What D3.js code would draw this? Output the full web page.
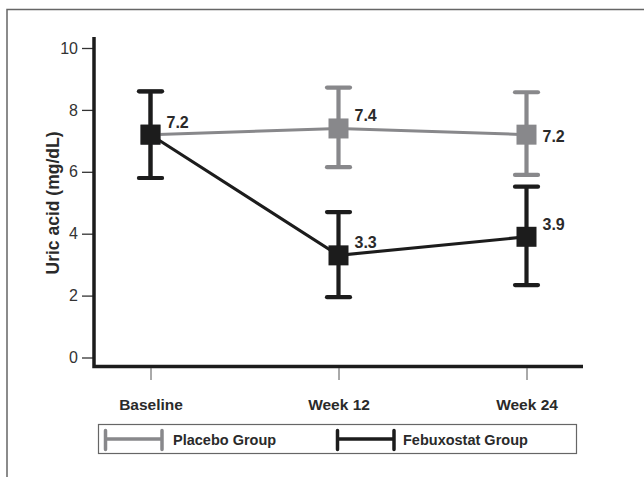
<!DOCTYPE html>
<html>
<head>
<script src="https://d3js.org/d3.v7.min.js"></script>
<style>
body { margin: 0; background: white; font-family: "Liberation Sans", Arial, Helvetica, sans-serif; }
</style>
</head>
<body>
<div id="chart"></div>
<script>
// data
const timepoints = ["Baseline", "Week 12", "Week 24"];
const yTicks = [0, 2, 4, 6, 8, 10];
const placeboMean = [7.2, 7.4, 7.2];
const placeboLow = [5.8, 6.15, 5.9];
const placeboHigh = [8.6, 8.72, 8.57];
const febuxMean = [7.2, 3.3, 3.9];
const febuxLow = [5.8, 1.95, 2.34];
const febuxHigh = [8.6, 4.7, 5.52];
const seriesNames = ["Placebo Group", "Febuxostat Group"];

const width = 644, height = 477;
const grey = "#88888b", black = "#1c1c1c";

const svg = d3.select("#chart").append("svg")
    .attr("width", width)
    .attr("height", height);

// outer frame (open at right and bottom)
svg.append("path")
    .attr("d", `M7,${height} V9.5 H${width}`)
    .attr("fill", "none")
    .attr("stroke", "#666")
    .attr("stroke-width", 1.5);

const x = d3.scalePoint()
    .domain(timepoints)
    .range([150.5, 526.5]);

const y = d3.scaleLinear()
    .domain([0, 10])
    .range([357.5, 48]);

// y axis
const yAxis = svg.append("g")
    .attr("transform", "translate(94,0)")
    .call(d3.axisLeft(y).tickValues(yTicks).tickSize(12).tickPadding(4))
    .call(g => g.select(".domain").remove());
yAxis.selectAll(".tick line").attr("stroke", "#333").attr("stroke-width", 1.3);
yAxis.selectAll(".tick text")
    .attr("font-size", 16)
    .attr("fill", "#333")
    .attr("font-family", "Liberation Sans, Arial, sans-serif");

svg.append("path")
    .attr("d", `M94,37 V366.5 H583`)
    .attr("fill", "none")
    .attr("stroke", "#1c1c1c")
    .attr("stroke-width", 3.5);

// x axis ticks and labels
const xAxis = svg.append("g")
    .attr("transform", "translate(0,368)")
    .call(d3.axisBottom(x).tickSize(12).tickPadding(19))
    .call(g => g.select(".domain").remove());
xAxis.selectAll(".tick line").attr("stroke", "#555").attr("stroke-width", 1);
xAxis.selectAll(".tick text")
    .attr("font-size", 15.5)
    .attr("font-weight", "bold")
    .attr("fill", "#2a2a2a")
    .attr("font-family", "Liberation Sans, Arial, sans-serif");

// y title
svg.append("text")
    .attr("transform", `translate(59,203) rotate(-90)`)
    .attr("text-anchor", "middle")
    .attr("font-size", 17.5)
    .attr("font-weight", "bold")
    .attr("fill", "#2a2a2a")
    .text("Uric acid (mg/dL)");

const line = d3.line()
    .x(d => x(d.t))
    .y(d => y(d.v));

function drawSeries(mean, low, high, color) {
  const pts = timepoints.map((t, i) => ({t, v: mean[i], lo: low[i], hi: high[i], i}));
  const g = svg.append("g");
  g.append("path")
      .datum(pts)
      .attr("d", line)
      .attr("fill", "none")
      .attr("stroke", color)
      .attr("stroke-width", 3);
  const eb = g.selectAll(".eb").data(pts).join("g");
  eb.append("line")
      .attr("x1", d => x(d.t)).attr("x2", d => x(d.t))
      .attr("y1", d => y(d.lo)).attr("y2", d => y(d.hi))
      .attr("stroke", color).attr("stroke-width", 4.2);
  eb.selectAll(".cap").data(d => [[d.t, d.lo], [d.t, d.hi]]).join("line")
      .attr("x1", d => x(d[0]) - 11.5).attr("x2", d => x(d[0]) + 11.5)
      .attr("y1", d => y(d[1])).attr("y2", d => y(d[1]))
      .attr("stroke", color).attr("stroke-width", 4.2).attr("stroke-linecap", "round");
  eb.append("rect")
      .attr("x", d => x(d.t) - 10).attr("y", d => y(d.v) - 10)
      .attr("width", 20).attr("height", 20)
      .attr("fill", color);
  return pts;
}

const placeboPts = drawSeries(placeboMean, placeboLow, placeboHigh, grey);
const febuxPts = drawSeries(febuxMean, febuxLow, febuxHigh, black);

// value labels (baseline shared, drawn once)
const labelData = placeboPts.map(d => ({...d, below: d.i === 2}))
    .concat(febuxPts.filter(d => d.i > 0).map(d => ({...d, below: false})));
svg.append("g").selectAll("text").data(labelData).join("text")
    .attr("x", d => x(d.t) + 16)
    .attr("y", d => y(d.v) + (d.below ? 7 : -7))
    .attr("font-size", 16)
    .attr("font-weight", "bold")
    .attr("fill", "#2a2a2a")
    .text(d => d.v.toFixed(1));

// legend
const lg = svg.append("g");
lg.append("rect")
    .attr("x", 98.5).attr("y", 424.5)
    .attr("width", 478).attr("height", 29)
    .attr("fill", "none").attr("stroke", "#666").attr("stroke-width", 1.2);
const legendItems = [
  {name: seriesNames[0], color: grey, x0: 105.5, x1: 162, tx: 173},
  {name: seriesNames[1], color: black, x0: 337.5, x1: 394, tx: 403}
];
legendItems.forEach(it => {
  lg.append("path")
      .attr("d", `M${it.x0},430.5 V449.5 M${it.x0},439 H${it.x1} M${it.x1},430.5 V449.5`)
      .attr("fill", "none")
      .attr("stroke", it.color)
      .attr("stroke-width", 3.5)
      .attr("stroke-linecap", "round");
  lg.append("text")
      .attr("x", it.tx).attr("y", 444.5)
      .attr("font-size", 14.5)
      .attr("font-weight", "bold")
      .attr("fill", "#2a2a2a")
      .text(it.name);
});
</script>
</body>
</html>
